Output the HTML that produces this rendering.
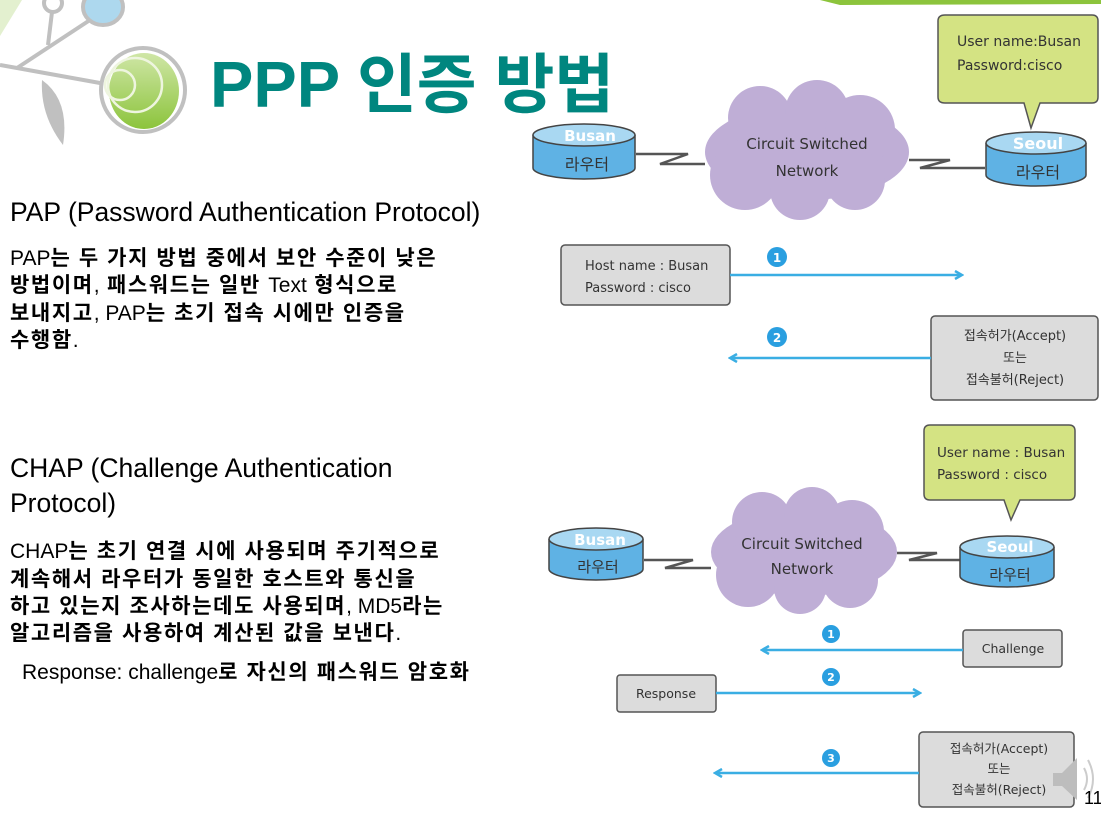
<!DOCTYPE html>
<html><head><meta charset="utf-8"><style>
html,body{margin:0;padding:0;background:#fff;}
body{width:1101px;height:815px;position:relative;overflow:hidden;font-family:"Liberation Sans","Noto Sans CJK KR",sans-serif;}
.t{position:absolute;white-space:nowrap;color:#000;}
.h{font-size:26.5px;}
.b{font-size:21px;font-weight:bold;letter-spacing:1.6px;}
.b span{font-weight:normal;letter-spacing:0;}
svg{position:absolute;left:0;top:0;}
</style></head><body>
<svg width="1101" height="815" viewBox="0 0 1101 815" font-family="'DejaVu Sans','Noto Sans CJK KR',sans-serif">
<defs>
<linearGradient id="g" x1="0" y1="0" x2="0" y2="1"><stop offset="0" stop-color="#cfe6a6"/><stop offset="1" stop-color="#8cc43c"/></linearGradient>
<marker id="ah" markerWidth="10" markerHeight="10" refX="8" refY="5" orient="auto" markerUnits="userSpaceOnUse"><path d="M1,1 L8,5 L1,9" fill="none" stroke="#3aaee3" stroke-width="2.5"/></marker>
</defs>
<polygon points="0,0 22,0 0,36" fill="#e3f0cf"/>
<polygon points="820,0 1101,0 1101,4 840,5" fill="#8cc43c"/>
<g stroke="#c0c0c0" stroke-width="4" fill="none">
<polyline points="0,65 17,68 100,83"/>
<line x1="17" y1="68" x2="90" y2="20"/>
<line x1="48" y1="45" x2="52" y2="12"/>
<circle cx="53" cy="3" r="9" fill="#fff"/>
<ellipse cx="103" cy="7" rx="20" ry="18" fill="#add8ee"/>
</g>
<path d="M42,80 Q70,100 63,145 Q40,115 42,80Z" fill="#c0c0c0"/>
<circle cx="143" cy="90" r="42" fill="#fff" stroke="#c0c0c0" stroke-width="4"/>
<ellipse cx="144" cy="91" rx="35" ry="38" fill="url(#g)"/>
<circle cx="135" cy="85" r="27" fill="none" stroke="#eef5df" stroke-width="2.5"/>
<circle cx="120" cy="85" r="15" fill="none" stroke="#eef5df" stroke-width="2.5"/>
<text x="210" y="107" font-family="'Liberation Sans','Noto Sans CJK KR',sans-serif" font-size="65" font-weight="bold" fill="#00867f">PPP 인증 방법</text>

<path d="M945,15 H1092 Q1098,15 1098,21 V97 Q1098,103 1092,103 H1040 L1031,128 L1024,103 H945 Q938,103 938,97 V21 Q938,15 945,15Z" fill="#d4e383" stroke="#555" stroke-width="1.5"/>
<text x="957" y="46" font-size="14" fill="#333">User name:Busan</text>
<text x="957" y="70" font-size="14" fill="#333">Password:cisco</text>
<polyline points="636,154 688,154 660,164 705,164" fill="none" stroke="#555" stroke-width="2.5"/>
<polyline points="909,160 950,160 920,168 985,168" fill="none" stroke="#555" stroke-width="2.5"/>
<g fill="#bfaed6">
<ellipse cx="807" cy="152" rx="102" ry="48"/><circle cx="760" cy="118" r="32"/><circle cx="817" cy="112" r="32"/><circle cx="860" cy="130" r="35"/><circle cx="745" cy="175" r="35"/><circle cx="800" cy="190" r="30"/><circle cx="855" cy="180" r="30"/>
</g>
<text x="807" y="149" font-size="15" text-anchor="middle" fill="#333">Circuit Switched</text>
<text x="807" y="176" font-size="15" text-anchor="middle" fill="#333">Network</text>
<g stroke="#444" stroke-width="1.5">
<path d="M533,135 V168 A51,11 0 0 0 635,168 V135" fill="#5fb2e4"/>
<ellipse cx="584" cy="135" rx="51" ry="11" fill="#a9d8f2"/>
<path d="M986,143 V175 A50,11 0 0 0 1086,175 V143" fill="#5fb2e4"/>
<ellipse cx="1036" cy="143" rx="50" ry="11" fill="#a9d8f2"/>
</g>
<text x="590" y="141" font-size="15" text-anchor="middle" fill="#fff" font-weight="bold">Busan</text>
<text x="587" y="170" font-size="16" text-anchor="middle" fill="#333">라우터</text>
<text x="1038" y="149" font-size="16" text-anchor="middle" fill="#fff" font-weight="bold">Seoul</text>
<text x="1038" y="178" font-size="16" text-anchor="middle" fill="#333">라우터</text>
<rect x="561" y="245" width="169" height="60" rx="4" fill="#dcdcdc" stroke="#555" stroke-width="1.5"/>
<text x="585" y="270" font-size="13" fill="#333">Host name : Busan</text>
<text x="585" y="292" font-size="13" fill="#333">Password : cisco</text>
<line x1="730" y1="275" x2="962" y2="275" stroke="#3aaee3" stroke-width="2.5" marker-end="url(#ah)"/>
<circle cx="777" cy="257" r="10" fill="#2a9fe0"/><text x="777" y="262" font-size="12" fill="#fff" text-anchor="middle" font-weight="bold">1</text>
<rect x="931" y="316" width="167" height="84" rx="4" fill="#dcdcdc" stroke="#555" stroke-width="1.5"/>
<text x="1015" y="340" font-size="13" fill="#333" text-anchor="middle">접속허가(Accept)</text>
<text x="1015" y="362" font-size="13" fill="#333" text-anchor="middle">또는</text>
<text x="1015" y="384" font-size="13" fill="#333" text-anchor="middle">접속불허(Reject)</text>
<line x1="931" y1="358" x2="730" y2="358" stroke="#3aaee3" stroke-width="2.5" marker-end="url(#ah)"/>
<circle cx="777" cy="337" r="10" fill="#2a9fe0"/><text x="777" y="342" font-size="12" fill="#fff" text-anchor="middle" font-weight="bold">2</text>

<path d="M930,425 H1069 Q1075,425 1075,431 V494 Q1075,500 1069,500 H1020 L1011,520 L1004,500 H930 Q924,500 924,494 V431 Q924,425 930,425Z" fill="#d4e383" stroke="#555" stroke-width="1.5"/>
<text x="937" y="457" font-size="13.5" fill="#333">User name : Busan</text>
<text x="937" y="479" font-size="13.5" fill="#333">Password : cisco</text>
<polyline points="644,560 693,560 665,568 711,568" fill="none" stroke="#555" stroke-width="2.5"/>
<polyline points="897,553 937,553 909,560 960,560" fill="none" stroke="#555" stroke-width="2.5"/>
<g fill="#bfaed6">
<ellipse cx="804" cy="552" rx="93" ry="44"/><circle cx="762" cy="522" r="30"/><circle cx="812" cy="515" r="28"/><circle cx="852" cy="532" r="32"/><circle cx="748" cy="575" r="32"/><circle cx="800" cy="588" r="26"/><circle cx="850" cy="580" r="28"/>
</g>
<text x="802" y="549" font-size="15" text-anchor="middle" fill="#333">Circuit Switched</text>
<text x="802" y="574" font-size="15" text-anchor="middle" fill="#333">Network</text>
<g stroke="#444" stroke-width="1.5">
<path d="M549,539 V569 A47,11 0 0 0 643,569 V539" fill="#5fb2e4"/>
<ellipse cx="596" cy="539" rx="47" ry="11" fill="#a9d8f2"/>
<path d="M960,547 V576 A47,11 0 0 0 1054,576 V547" fill="#5fb2e4"/>
<ellipse cx="1007" cy="547" rx="47" ry="11" fill="#a9d8f2"/>
</g>
<text x="600" y="545" font-size="15" text-anchor="middle" fill="#fff" font-weight="bold">Busan</text>
<text x="598" y="572" font-size="15" text-anchor="middle" fill="#333">라우터</text>
<text x="1010" y="552" font-size="15" text-anchor="middle" fill="#fff" font-weight="bold">Seoul</text>
<text x="1010" y="580" font-size="15" text-anchor="middle" fill="#333">라우터</text>
<rect x="963" y="630" width="99" height="37" rx="3" fill="#dcdcdc" stroke="#555" stroke-width="1.5"/>
<text x="1013" y="653" font-size="12.5" fill="#333" text-anchor="middle">Challenge</text>
<line x1="963" y1="650" x2="762" y2="650" stroke="#3aaee3" stroke-width="2.5" marker-end="url(#ah)"/>
<circle cx="831" cy="634" r="9" fill="#2a9fe0"/><text x="831" y="638" font-size="11" fill="#fff" text-anchor="middle" font-weight="bold">1</text>
<rect x="617" y="675" width="99" height="37" rx="3" fill="#dcdcdc" stroke="#555" stroke-width="1.5"/>
<text x="666" y="698" font-size="12.5" fill="#333" text-anchor="middle">Response</text>
<line x1="716" y1="693" x2="920" y2="693" stroke="#3aaee3" stroke-width="2.5" marker-end="url(#ah)"/>
<circle cx="831" cy="677" r="9" fill="#2a9fe0"/><text x="831" y="681" font-size="11" fill="#fff" text-anchor="middle" font-weight="bold">2</text>
<rect x="919" y="732" width="155" height="75" rx="4" fill="#dcdcdc" stroke="#555" stroke-width="1.5"/>
<text x="999" y="753" font-size="12.5" fill="#333" text-anchor="middle">접속허가(Accept)</text>
<text x="999" y="773" font-size="12.5" fill="#333" text-anchor="middle">또는</text>
<text x="999" y="794" font-size="12.5" fill="#333" text-anchor="middle">접속불허(Reject)</text>
<line x1="919" y1="773" x2="715" y2="773" stroke="#3aaee3" stroke-width="2.5" marker-end="url(#ah)"/>
<circle cx="831" cy="758" r="9" fill="#2a9fe0"/><text x="831" y="762" font-size="11" fill="#fff" text-anchor="middle" font-weight="bold">3</text>
<polygon points="1053,773 1062,773 1077,758 1077,800 1062,786 1053,786" fill="#bdbdbd"/>
<path d="M1084,768 Q1090,779 1084,790" fill="none" stroke="#ccc" stroke-width="2"/>
<path d="M1088,760 Q1098,779 1088,798" fill="none" stroke="#ccc" stroke-width="2"/>
<text x="1084" y="804" font-size="18" fill="#000" font-family="'Liberation Sans',sans-serif">11</text>
</svg>

<div class="t h" style="left:10px;top:197px;">PAP (Password Authentication Protocol)</div>
<div class="t b" style="left:10px;top:242px;"><span>PAP</span>는 두 가지 방법 중에서 보안 수준이 낮은</div>
<div class="t b" style="left:10px;top:269px;">방법이며<span>,</span> 패스워드는 일반 <span>Text</span> 형식으로</div>
<div class="t b" style="left:10px;top:297px;">보내지고<span>, PAP</span>는 초기 접속 시에만 인증을</div>
<div class="t b" style="left:10px;top:324px;">수행함<span>.</span></div>
<div class="t h" style="left:10px;top:453px;">CHAP (Challenge Authentication</div>
<div class="t h" style="left:10px;top:488px;">Protocol)</div>
<div class="t b" style="left:10px;top:535px;"><span>CHAP</span>는 초기 연결 시에 사용되며 주기적으로</div>
<div class="t b" style="left:10px;top:563px;">계속해서 라우터가 동일한 호스트와 통신을</div>
<div class="t b" style="left:10px;top:590px;">하고 있는지 조사하는데도 사용되며<span>,  MD5</span>라는</div>
<div class="t b" style="left:10px;top:617px;">알고리즘을 사용하여 계산된 값을 보낸다<span>.</span></div>
<div class="t b" style="left:22px;top:656px;"><span>Response: challenge</span>로 자신의 패스워드 암호화</div>
</body></html>
